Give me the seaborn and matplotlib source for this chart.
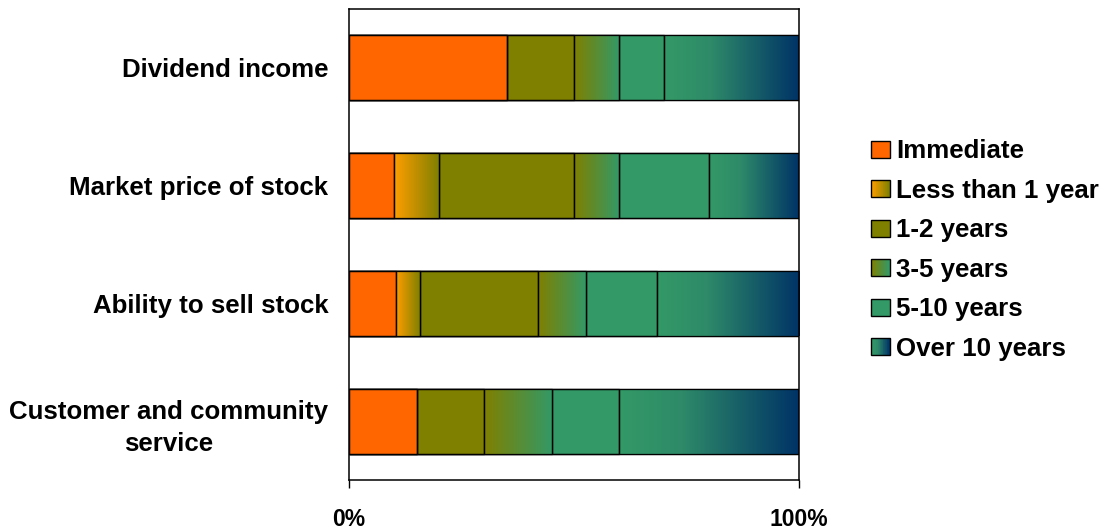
import numpy as np
import pandas as pd
import matplotlib
matplotlib.use("Agg")
import matplotlib.pyplot as plt
import seaborn as sns
from matplotlib.colors import LinearSegmentedColormap
from matplotlib.patches import Rectangle, Patch
from matplotlib.legend_handler import HandlerBase

# values in percent of answers per item
categories = ["Dividend income", "Market price of stock", "Ability to sell stock",
              "Customer and community\nservice"]
immediate = [35, 10, 10.5, 15]
less_1yr = [0, 10, 5.3, 0]
yrs_1_2 = [15, 30, 26.3, 15]
yrs_3_5 = [10, 10, 10.5, 15]
yrs_5_10 = [10, 20, 15.8, 15]
over_10 = [30, 20, 31.6, 40]
series_names = ["Immediate", "Less than 1 year", "1-2 years", "3-5 years",
                "5-10 years", "Over 10 years"]
tick_labels = ["0%", "100%"]

# fill colours: one colour = solid, more = gradient left->right (pos, colour)
fills = [
    [(0, "#FF6600")],
    [(0, "#FF9E00"), (1, "#808000")],
    [(0, "#808000")],
    [(0, "#808000"), (1, "#339966")],
    [(0, "#339966")],
    [(0, "#339966"), (0.35, "#2E8A69"), (1, "#003366")],
]

sns.set_theme(style="white")
plt.rcParams['font.family'] = ['Liberation Sans', 'DejaVu Sans']
plt.rcParams['font.weight'] = 'bold'
plt.rcParams['text.color'] = 'black'
plt.rcParams['xtick.color'] = 'black'
plt.rcParams['ytick.color'] = 'black'


def make_cmap(stops):
    if len(stops) == 1:
        stops = [(0, stops[0][1]), (1, stops[0][1])]
    return LinearSegmentedColormap.from_list("g", stops)


cmaps = [make_cmap(c) for c in fills]

series = [immediate, less_1yr, yrs_1_2, yrs_3_5, yrs_5_10, over_10]
vals = np.array(series)
cum = np.cumsum(vals, axis=0)
starts = cum - vals

fig = plt.figure(figsize=(11.07, 5.29), dpi=100)
ax = fig.add_axes([349 / 1107, 49 / 529, 450 / 1107, 471 / 529])

# stacked bars drawn as overlapping layers, longest first
bar_geom = {}
for k in range(len(series) - 1, -1, -1):
    df = pd.DataFrame({"cat": categories, "val": cum[k]})
    sns.barplot(data=df, x="val", y="cat", orient="h", color=fills[k][0][1],
                saturation=1, width=0.55, edgecolor="black", linewidth=0.9,
                ax=ax, zorder=1)
    bar_geom[k] = [(p.get_y(), p.get_height()) for p in ax.patches[-len(categories):]]

# gradient overlays and segment outlines
grad = np.linspace(0, 1, 256).reshape(1, -1)
for k in range(len(series)):
    for i in range(len(categories)):
        x0, w = starts[k][i], vals[k][i]
        if w <= 0:
            continue
        y0, h = bar_geom[k][i]
        if len(fills[k]) > 1:
            ax.imshow(grad, cmap=cmaps[k], extent=[x0, x0 + w, y0 + h, y0],
                      aspect="auto", interpolation="bilinear", zorder=2)
        ax.add_patch(Rectangle((x0, y0), w, h, fill=False, edgecolor="black",
                               linewidth=0.9, zorder=3))

ax.set_xlim(0, 100)
ax.set_ylim(len(categories) - 0.5, -0.5)
ax.set_xticks([0, 100])
ax.set_xticklabels(tick_labels)
ax.set_xlabel("")
ax.set_ylabel("")
ax.tick_params(axis="x", length=5.8, width=1, color="black", direction="out",
               pad=14, labelsize=16.5, bottom=True, labelcolor="black")
ax.tick_params(axis="y", length=0, pad=15, labelsize=18.6, labelcolor="black")
for lab in ax.get_yticklabels():
    lab.set_multialignment("center")
    lab.set_linespacing(1.45)
for s in ax.spines.values():
    s.set_color("black")
    s.set_linewidth(1.1)
    s.set_visible(True)


class GradientHandler(HandlerBase):
    def __init__(self, cmap):
        super().__init__()
        self.cmap = cmap

    def create_artists(self, legend, orig_handle, xdescent, ydescent, width,
                       height, fontsize, trans):
        out = []
        n = 24
        for j in range(n):
            r = Rectangle((-xdescent + j * width / n, -ydescent), width / n + 0.05,
                          height, facecolor=self.cmap(j / (n - 1)), linewidth=0,
                          transform=trans)
            out.append(r)
        out.append(Rectangle((-xdescent, -ydescent), width, height, fill=False,
                             edgecolor="black", linewidth=1.0, transform=trans))
        return out


handles = [Patch(label=n) for n in series_names]
hmap = {h: GradientHandler(cm) for h, cm in zip(handles, cmaps)}
fig.legend(handles=handles, labels=series_names, handler_map=hmap,
           loc="center left", bbox_to_anchor=(871 / 1107, 1 - 250 / 529),
           frameon=False, fontsize=18.6, handlelength=0.72, handleheight=0.62,
           handletextpad=0.25, labelspacing=0.6, borderaxespad=0,
           borderpad=0, labelcolor="black")

fig.savefig("out.png", dpi=100, facecolor="white")
